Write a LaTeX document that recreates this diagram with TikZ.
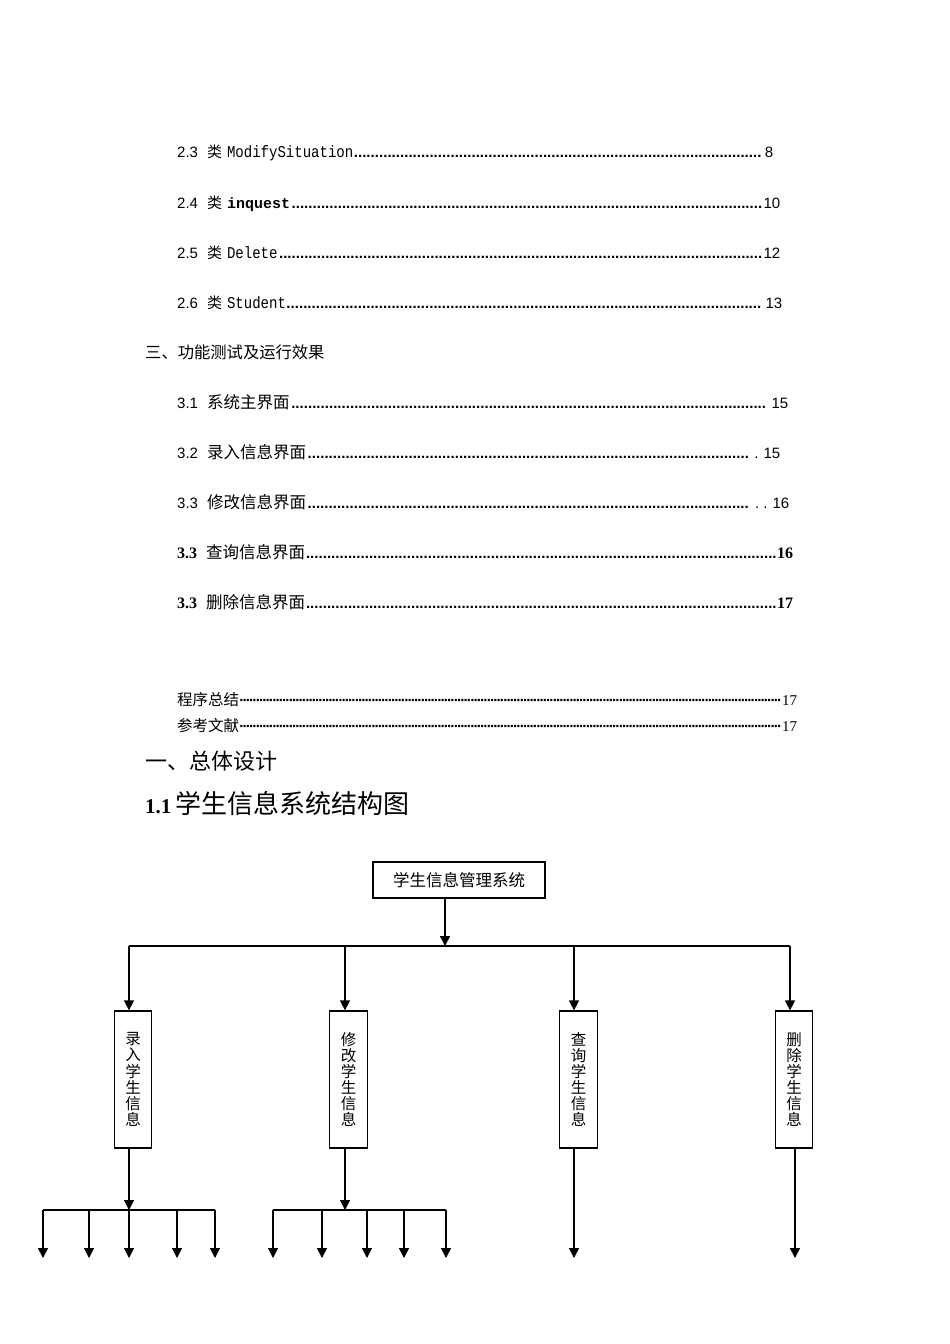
\documentclass[tikz,border=0pt]{standalone}
\usepackage{fontspec}
\setmainfont{Liberation Serif}
\setsansfont{Liberation Sans}
\setmonofont{Liberation Mono}
\newfontfamily\cjk{Noto Sans CJK SC}
\newfontfamily\hwmono[FakeStretch=0.85]{Liberation Mono}
\usetikzlibrary{arrows.meta}

\newcommand{\zh}[2][15]{{\cjk\fontsize{#1}{#1}\selectfont #2}}
\newcommand{\hw}[1]{{\hwmono\fontsize{16.5}{18}\selectfont #1}}
\newcommand{\tocdots}{\cleaders\hbox to 4.2pt{\hss\bfseries.\hss}\hfill}
\newcommand{\middots}{\cleaders\hbox to 3.3pt{\hss\sffamily\bfseries·\hss}\hfill}

\begin{document}
\begin{tikzpicture}[
  x=1pt, y=-1pt,
  font=\sffamily\fontsize{15}{17}\selectfont,
  toc/.style={anchor=west, inner sep=0pt},
  topbox/.style={draw, line width=1.3pt, minimum width=172pt, minimum height=36pt,
                 inner sep=0pt, font=\cjk\fontsize{16.5}{18}\selectfont},
  modbox/.style={draw, line width=1.3pt, minimum width=37.5pt, minimum height=137pt,
                 inner sep=0pt, align=center, font=\cjk\fontsize{15.5}{16.1}\selectfont},
  fl/.style={-{Triangle[length=10pt,width=10pt]}, line width=1.5pt},
  ln/.style={line width=1.5pt}
]
\fill[white] (0,0) rectangle (950,1344);
\path[use as bounding box] (0,0) rectangle (950,1344);

% ---------- contents, chapter 2 ----------
\node[toc] (t23) at (177,153) {\hbox to 596pt{2.3\hspace{9pt}\zh{类}\hspace{5pt}\hw{ModifySituation}\tocdots\hspace{3pt}8}};
\node[toc] (t24) at (177,204) {\hbox to 603pt{2.4\hspace{9pt}\zh{类}\hspace{5pt}{\ttfamily\bfseries inquest}\tocdots 10}};
\node[toc] (t25) at (177,253) {\hbox to 603pt{2.5\hspace{9pt}\zh{类}\hspace{5pt}\hw{Delete}\tocdots 12}};
\node[toc] (t26) at (177,303) {\hbox to 605pt{2.6\hspace{9pt}\zh{类}\hspace{5pt}\hw{Student}\tocdots\hspace{4pt}13}};

% ---------- contents, chapter 3 ----------
\node[toc] (h3) at (145,352) {\zh[16.3]{三、功能测试及运行效果}};
\node[toc] (t31) at (177,402) {\hbox to 611pt{3.1\hspace{9pt}\zh[16.5]{系统主界面}\tocdots\hspace{4pt}15}};
\node[toc] (t32) at (177,452) {\hbox to 603pt{3.2\hspace{9pt}\zh[16.5]{录入信息界面}\tocdots\hspace{4pt}.\hspace{5pt}15}};
\node[toc] (t33) at (177,502) {\hbox to 612pt{3.3\hspace{9pt}\zh[16.5]{修改信息界面}\tocdots\hspace{5pt}.\hspace{4pt}.\hspace{5pt}16}};
\node[toc] (t34) at (177,552) {\hbox to 616pt{{\rmfamily\bfseries\fontsize{16}{18}\selectfont 3.3}\hspace{9pt}\zh[16.5]{查询信息界面}{\bfseries\tocdots}{\rmfamily\bfseries\fontsize{16}{18}\selectfont 16}}};
\node[toc] (t35) at (177,602) {\hbox to 616pt{{\rmfamily\bfseries\fontsize{16}{18}\selectfont 3.3}\hspace{9pt}\zh[16.5]{删除信息界面}{\bfseries\tocdots}{\rmfamily\bfseries\fontsize{16}{18}\selectfont 17}}};

% ---------- summary, references ----------
\node[toc] (s1) at (177,700) {\hbox to 620pt{\zh[15.5]{程序总结}\middots{\rmfamily 17}}};
\node[toc] (s2) at (177,726) {\hbox to 620pt{\zh[15.5]{参考文献}\middots{\rmfamily 17}}};

% ---------- headings ----------
\node[toc] (h1) at (145,761) {\zh[22]{一、总体设计}};
\node[toc] (h11) at (145,804) {{\rmfamily\bfseries\fontsize{21}{24}\selectfont 1.1}\hspace{4pt}\zh[26]{学生信息系统结构图}};

% ---------- structure chart: root ----------
\node[topbox] (sys) at (459,880) {学生信息管理系统};
\coordinate (bus)  at (445,946);
\coordinate (busl) at (129,946);
\coordinate (busr) at (790,946);
\draw[fl] (bus |- sys.south) -- (bus);
\draw[ln] (busl) -- (busr);

% ---------- four modules ----------
\node[modbox] (lr) at (133,1079.5)   {录\\入\\学\\生\\信\\息};
\node[modbox] (xg) at (348.5,1079.5) {修\\改\\学\\生\\信\\息};
\node[modbox] (cx) at (578.5,1079.5) {查\\询\\学\\生\\信\\息};
\node[modbox] (sc) at (794,1079.5)   {删\\除\\学\\生\\信\\息};
\foreach \x/\m in {129/lr, 345/xg, 574/cx, 790/sc}{
  \coordinate (in-\m) at (\x,946);
  \draw[fl] (in-\m) -- (in-\m |- \m.north);
}

% ---------- below the modules ----------
\coordinate (hub1)  at (129,1210);
\coordinate (hub1l) at (43,1210);
\coordinate (hub1r) at (215,1210);
\draw[fl] (hub1 |- lr.south) -- (hub1);
\draw[ln] (hub1l) -- (hub1r);
\foreach \x [count=\i] in {43,89,129,177,215}{
  \coordinate (lr\i) at (\x,1258);
  \draw[fl] (lr\i |- hub1) -- (lr\i);
}

\coordinate (hub2)  at (345,1210);
\coordinate (hub2l) at (273,1210);
\coordinate (hub2r) at (446,1210);
\draw[fl] (hub2 |- xg.south) -- (hub2);
\draw[ln] (hub2l) -- (hub2r);
\foreach \x [count=\i] in {273,322,367,404,446}{
  \coordinate (xg\i) at (\x,1258);
  \draw[fl] (xg\i |- hub2) -- (xg\i);
}

\coordinate (cx1) at (574,1258);
\coordinate (sc1) at (795,1258);
\draw[fl] (cx1 |- cx.south) -- (cx1);
\draw[fl] (sc1 |- sc.south) -- (sc1);

\end{tikzpicture}
\end{document}
